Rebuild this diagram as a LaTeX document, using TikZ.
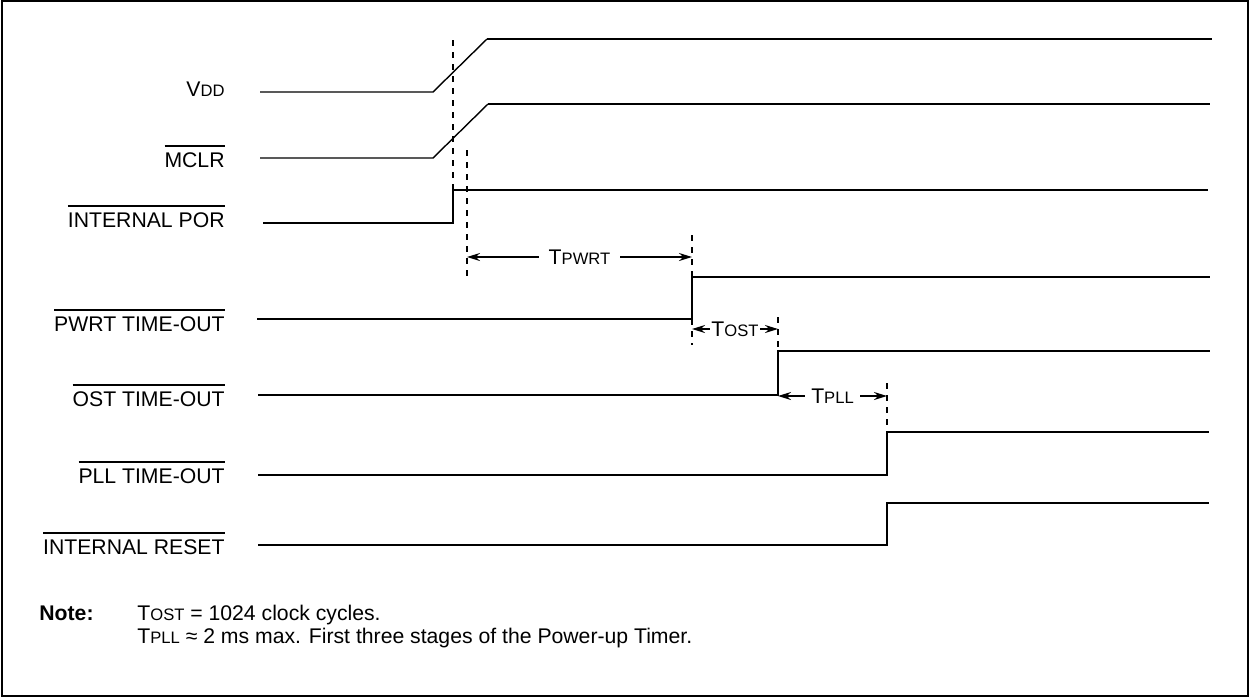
\documentclass[tikz,border=0pt]{standalone}
\usepackage{fontspec}
\setmainfont{Liberation Sans}
\usetikzlibrary{arrows.meta}
\newcommand{\sml}[1]{{\fontsize{8.3}{10}\selectfont #1}}
\newcommand{\ovl}[1]{\leavevmode\vbox{\hrule height 0.9pt \kern 2.5pt \hbox{#1}}}

\begin{document}
\begin{tikzpicture}[x=0.5pt,y=-0.5pt,
  every node/.append style={font=\fontsize{10.6}{12.7}\selectfont, inner sep=0pt},
  wave/.style={line width=1.3pt},
  ramp/.style={line width=0.7pt},
  dashline/.style={line width=1.2pt, dash pattern=on 3pt off 3pt},
  span/.style={{Stealth[length=6.5pt,width=4pt]}-{Stealth[length=6.5pt,width=4pt]}, line width=0.9pt},
  lbl/.style={anchor=base east}]
\useasboundingbox (0,0) rectangle (1250,698);
\draw[line width=1pt] (2,1) rectangle (1248,696);

%signal names
\node[lbl] (vdd) at (225,96) {V\sml{DD}};
\node[lbl] (mclr) at (225,167) {\ovl{MCLR}};
\node[lbl] (por) at (225,227) {\ovl{INTERNAL POR}};
\node[lbl] (pwrt) at (225,331) {\ovl{PWRT TIME-OUT}};
\node[lbl] (ost) at (225,406) {\ovl{OST TIME-OUT}};
\node[lbl] (pll) at (225,483) {\ovl{PLL TIME-OUT}};
\node[lbl] (rst) at (225,554) {\ovl{INTERNAL RESET}};

%waveforms
\draw[ramp] (260,92) -- (433,92) -- (487,39);
\draw[wave] (487,39) -- (1212,39);
\draw[ramp] (260,158) -- (433,158) -- (488,104);
\draw[wave] (488,104) -- (1210,104);
\draw[wave] (263,223) -- (453,223) -- (453,190) -- (1208,190);
\draw[wave] (257,319) -- (692,319) -- (692,277) -- (1210,277);
\draw[wave] (258,395) -- (778,395) -- (778,351) -- (1210,351);
\draw[wave] (258,475) -- (887,475) -- (887,432) -- (1209,432);
\draw[wave] (258,545) -- (887,545) -- (887,503) -- (1209,503);

%timing marks
\draw[dashline] (453,40) -- (453,190);
\draw[dashline] (467,150) -- (467,277);
\draw[dashline] (692,235) -- (692,345);
\draw[dashline] (778,317) -- (778,351);
\draw[dashline] (887,383) -- (887,432);

%intervals
\coordinate (pwrtA) at (467,257);
\coordinate (pwrtB) at (692,257);
\coordinate (ostA) at (692,329);
\coordinate (ostB) at (778,329);
\coordinate (pllA) at (778,396);
\coordinate (pllB) at (887,396);
\draw[span] (pwrtA) -- (pwrtB) node[midway,fill=white,inner xsep=5pt] (tpwrt) {T\sml{PWRT}};
\draw[span] (ostA) -- (ostB) node[midway,fill=white,inner xsep=0.5pt] (tost) {T\sml{OST}};
\draw[span] (pllA) -- (pllB) node[midway,fill=white,inner xsep=3pt] (tpll) {T\sml{PLL}};

%note
\node[anchor=base west] (note) at (39,620) {\bfseries Note:};
\node[anchor=base west] (n1) at (137,620) {T\sml{OST} = 1024 clock cycles.};
\node[anchor=base west] (n2) at (137,643) {T\sml{PLL} ≈ 2 ms max. First three stages of the Power-up Timer.};
\end{tikzpicture}
\end{document}
